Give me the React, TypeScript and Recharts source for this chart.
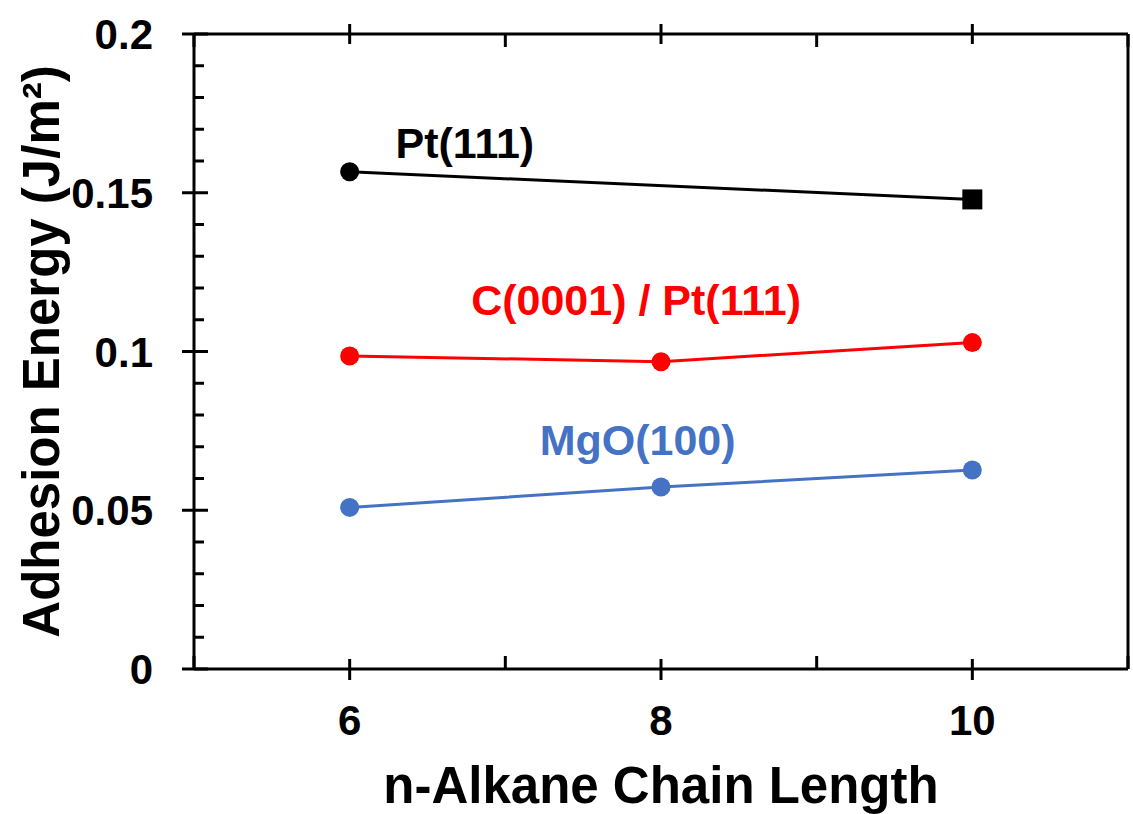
import React from "react";
import {
  LineChart,
  Line,
  XAxis,
  YAxis,
  ReferenceDot,
} from "recharts";

// chain lengths and adhesion energies (J/m^2)
const chainLengths = [6, 8, 10];
const ptValues = [0.1566, null, 0.1479];
const cptValues = [0.0986, 0.0968, 0.1028];
const mgoValues = [0.0509, 0.0573, 0.0627];

const xTicks = [5, 6, 7, 8, 9, 10, 11];
const xLabelTicks = [6, 8, 10];
const yTicks = [
  0, 0.01, 0.02, 0.03, 0.04, 0.05, 0.06, 0.07, 0.08, 0.09, 0.1, 0.11, 0.12,
  0.13, 0.14, 0.15, 0.16, 0.17, 0.18, 0.19, 0.2,
];
const yLabels: Record<number, string> = {
  0: "0",
  5: "0.05",
  10: "0.1",
  15: "0.15",
  20: "0.2",
};

// text annotations next to each series, in data coordinates
const annotations = [
  { text: "Pt(111)", x: 6.74, y: 0.1657, color: "#000000" },
  { text: "C(0001) / Pt(111)", x: 7.84, y: 0.1162, color: "#FF0000" },
  { text: "MgO(100)", x: 7.85, y: 0.0721, color: "#4472C4" },
];

const data = chainLengths.map((n, i) => ({
  n,
  pt: ptValues[i],
  cpt: cptValues[i],
  mgo: mgoValues[i],
}));

const FONT = "'Liberation Sans', Arial, sans-serif";
const TICK_W = 3;

const isMajorY = (v: number) => Math.round(v * 100) % 5 === 0;

const BottomTick = (props: any) => {
  const { x, y, payload } = props;
  const v = payload.value;
  const major = xLabelTicks.includes(v);
  return (
    <g>
      {major ? (
        <line x1={x} x2={x} y1={y - 10} y2={y + 11} stroke="#000" strokeWidth={TICK_W} />
      ) : (
        <line x1={x} x2={x} y1={y - 13} y2={y} stroke="#000" strokeWidth={TICK_W} />
      )}
      {major && (
        <text
          x={x}
          y={y + 66}
          textAnchor="middle"
          fontFamily={FONT}
          fontWeight="bold"
          fontSize={42}
          fill="#000"
        >
          {v}
        </text>
      )}
    </g>
  );
};

const TopTick = (props: any) => {
  const { x, y, payload } = props;
  const major = xLabelTicks.includes(payload.value);
  return major ? (
    <line x1={x} x2={x} y1={y - 10} y2={y + 10} stroke="#000" strokeWidth={TICK_W} />
  ) : (
    <line x1={x} x2={x} y1={y} y2={y + 13} stroke="#000" strokeWidth={TICK_W} />
  );
};

const LeftTick = (props: any) => {
  const { x, y, payload } = props;
  const v = payload.value;
  const major = isMajorY(v);
  return (
    <g>
      {major ? (
        <line x1={x - 12} x2={x + 14} y1={y} y2={y} stroke="#000" strokeWidth={TICK_W} />
      ) : (
        <line x1={x} x2={x + 10} y1={y} y2={y} stroke="#000" strokeWidth={TICK_W} />
      )}
      {major && (
        <text
          x={x - 41}
          y={y + 15}
          textAnchor="end"
          fontFamily={FONT}
          fontWeight="bold"
          fontSize={42}
          fill="#000"
        >
          {yLabels[Math.round(v * 100)]}
        </text>
      )}
    </g>
  );
};

const RightTick = (props: any) => {
  const { x, y, payload } = props;
  const major = isMajorY(payload.value);
  return major ? (
    <line x1={x - 14} x2={x + 4} y1={y} y2={y} stroke="#000" strokeWidth={TICK_W} />
  ) : (
    <line x1={x - 10} x2={x} y1={y} y2={y} stroke="#000" strokeWidth={TICK_W} />
  );
};

const PtDot = (props: any) => {
  const { cx, cy, index } = props;
  if (cx == null || cy == null || ptValues[index] == null) return <g key={`pt-${index}`} />;
  if (index === chainLengths.length - 1) {
    return (
      <rect key={`pt-${index}`} x={cx - 10} y={cy - 10} width={20} height={20} fill="#000" />
    );
  }
  return <circle key={`pt-${index}`} cx={cx} cy={cy} r={9.5} fill="#000" />;
};

export default function App() {
  return (
    <div style={{ position: "absolute", left: 0, top: 0, background: "#fff" }}>
      <LineChart
        width={1133}
        height={814}
        data={data}
        margin={{ top: 33, right: 4, bottom: 0, left: 0 }}
      >
        <XAxis
          dataKey="n"
          type="number"
          domain={[5, 11]}
          ticks={xTicks}
          interval={0}
          height={145}
          tickSize={0}
          tickMargin={0}
          tickLine={false}
          axisLine={{ stroke: "#000", strokeWidth: 3 }}
          tick={<BottomTick />}
          label={{
            content: (p: any) => {
              const vb = p.viewBox;
              return (
                <text
                  x={vb.x + vb.width / 2}
                  y={vb.y + 134}
                  textAnchor="middle"
                  fontFamily={FONT}
                  fontWeight="bold"
                  fontSize={51}
                  fill="#000"
                >
                  n-Alkane Chain Length
                </text>
              );
            },
          }}
        />
        <XAxis
          xAxisId="top"
          orientation="top"
          dataKey="n"
          type="number"
          domain={[5, 11]}
          ticks={xTicks}
          interval={0}
          height={1}
          tickSize={0}
          tickMargin={0}
          tickLine={false}
          axisLine={{ stroke: "#000", strokeWidth: 3 }}
          tick={<TopTick />}
        />
        <YAxis
          type="number"
          domain={[0, 0.2]}
          ticks={yTicks}
          interval={0}
          width={194}
          tickSize={0}
          tickMargin={0}
          tickLine={false}
          axisLine={{ stroke: "#000", strokeWidth: 3 }}
          tick={<LeftTick />}
          label={{
            content: (p: any) => {
              const vb = p.viewBox;
              const cx = 41;
              const cy = vb.y + vb.height / 2;
              return (
                <text
                  x={cx}
                  y={cy}
                  dy={18}
                  transform={`rotate(-90, ${cx}, ${cy})`}
                  textAnchor="middle"
                  fontFamily={FONT}
                  fontWeight="bold"
                  fontSize={51}
                  fill="#000"
                >
                  Adhesion Energy (J/m²)
                </text>
              );
            },
          }}
        />
        <YAxis
          yAxisId="right"
          orientation="right"
          type="number"
          domain={[0, 0.2]}
          ticks={yTicks}
          interval={0}
          width={1}
          tickSize={0}
          tickMargin={0}
          tickLine={false}
          axisLine={{ stroke: "#000", strokeWidth: 3 }}
          tick={<RightTick />}
        />
        <Line
          dataKey="pt"
          stroke="#000000"
          strokeWidth={3}
          connectNulls
          dot={PtDot}
          activeDot={false}
          isAnimationActive={false}
        />
        <Line
          dataKey="cpt"
          stroke="#FF0000"
          strokeWidth={3}
          dot={{ r: 9.5, fill: "#FF0000", stroke: "none" }}
          activeDot={false}
          isAnimationActive={false}
        />
        <Line
          dataKey="mgo"
          stroke="#4472C4"
          strokeWidth={3}
          dot={{ r: 9.5, fill: "#4472C4", stroke: "none" }}
          activeDot={false}
          isAnimationActive={false}
        />
        {annotations.map((a) => (
          <ReferenceDot
            key={a.text}
            x={a.x}
            y={a.y}
            r={0}
            shape={(p: any) => (
              <text
                x={p.cx}
                y={p.cy}
                dy={15}
                textAnchor="middle"
                fontFamily={FONT}
                fontWeight="bold"
                fontSize={43}
                fill={a.color}
              >
                {a.text}
              </text>
            )}
          />
        ))}
      </LineChart>
    </div>
  );
}
